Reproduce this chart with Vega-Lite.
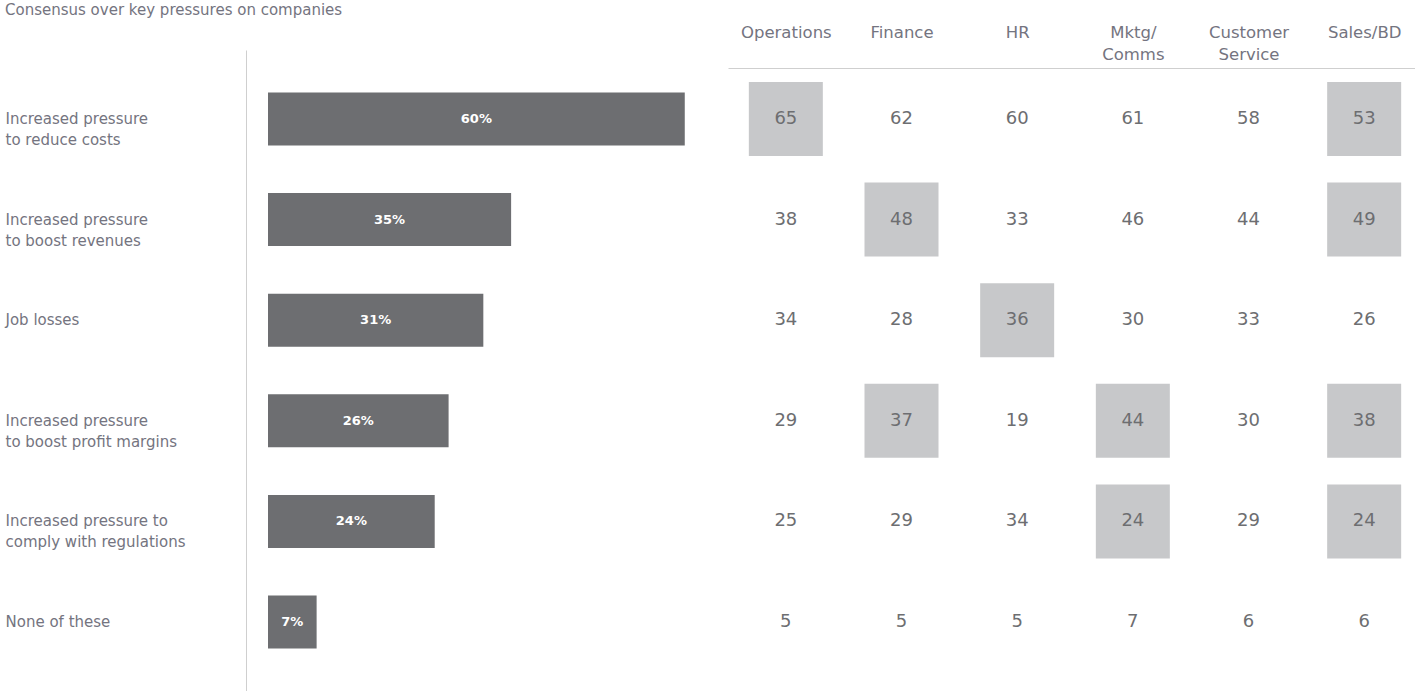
{
  "$schema": "https://vega.github.io/schema/vega-lite/v6.json",
  "width": 1169,
  "height": 641,
  "autosize": {"type": "none"},
  "padding": {"left": 246, "top": 50, "right": 0, "bottom": 0},
  "title": {
    "text": "Consensus over key pressures on companies",
    "anchor": "start",
    "frame": "bounds",
    "font": "DejaVu Sans",
    "fontSize": 15,
    "fontWeight": "normal",
    "color": "#747480",
    "offset": 6
  },
  "config": {"view": {"stroke": null}, "font": "DejaVu Sans"},
  "datasets": {
    "bars": [
      {"pressure": "Increased pressure\nto reduce costs", "share": 0.60},
      {"pressure": "Increased pressure\nto boost revenues", "share": 0.35},
      {"pressure": "Job losses", "share": 0.31},
      {"pressure": "Increased pressure\nto boost profit margins", "share": 0.26},
      {"pressure": "Increased pressure to\ncomply with regulations", "share": 0.24},
      {"pressure": "None of these", "share": 0.07}
    ],
    "cells": [
      {"pressure": "Increased pressure\nto reduce costs", "function": "Operations", "value": 65, "highlight": "yes"},
      {"pressure": "Increased pressure\nto reduce costs", "function": "Finance", "value": 62, "highlight": "no"},
      {"pressure": "Increased pressure\nto reduce costs", "function": "HR", "value": 60, "highlight": "no"},
      {"pressure": "Increased pressure\nto reduce costs", "function": "Mktg/Comms", "value": 61, "highlight": "no"},
      {"pressure": "Increased pressure\nto reduce costs", "function": "Customer Service", "value": 58, "highlight": "no"},
      {"pressure": "Increased pressure\nto reduce costs", "function": "Sales/BD", "value": 53, "highlight": "yes"},
      {"pressure": "Increased pressure\nto boost revenues", "function": "Operations", "value": 38, "highlight": "no"},
      {"pressure": "Increased pressure\nto boost revenues", "function": "Finance", "value": 48, "highlight": "yes"},
      {"pressure": "Increased pressure\nto boost revenues", "function": "HR", "value": 33, "highlight": "no"},
      {"pressure": "Increased pressure\nto boost revenues", "function": "Mktg/Comms", "value": 46, "highlight": "no"},
      {"pressure": "Increased pressure\nto boost revenues", "function": "Customer Service", "value": 44, "highlight": "no"},
      {"pressure": "Increased pressure\nto boost revenues", "function": "Sales/BD", "value": 49, "highlight": "yes"},
      {"pressure": "Job losses", "function": "Operations", "value": 34, "highlight": "no"},
      {"pressure": "Job losses", "function": "Finance", "value": 28, "highlight": "no"},
      {"pressure": "Job losses", "function": "HR", "value": 36, "highlight": "yes"},
      {"pressure": "Job losses", "function": "Mktg/Comms", "value": 30, "highlight": "no"},
      {"pressure": "Job losses", "function": "Customer Service", "value": 33, "highlight": "no"},
      {"pressure": "Job losses", "function": "Sales/BD", "value": 26, "highlight": "no"},
      {"pressure": "Increased pressure\nto boost profit margins", "function": "Operations", "value": 29, "highlight": "no"},
      {"pressure": "Increased pressure\nto boost profit margins", "function": "Finance", "value": 37, "highlight": "yes"},
      {"pressure": "Increased pressure\nto boost profit margins", "function": "HR", "value": 19, "highlight": "no"},
      {"pressure": "Increased pressure\nto boost profit margins", "function": "Mktg/Comms", "value": 44, "highlight": "yes"},
      {"pressure": "Increased pressure\nto boost profit margins", "function": "Customer Service", "value": 30, "highlight": "no"},
      {"pressure": "Increased pressure\nto boost profit margins", "function": "Sales/BD", "value": 38, "highlight": "yes"},
      {"pressure": "Increased pressure to\ncomply with regulations", "function": "Operations", "value": 25, "highlight": "no"},
      {"pressure": "Increased pressure to\ncomply with regulations", "function": "Finance", "value": 29, "highlight": "no"},
      {"pressure": "Increased pressure to\ncomply with regulations", "function": "HR", "value": 34, "highlight": "no"},
      {"pressure": "Increased pressure to\ncomply with regulations", "function": "Mktg/Comms", "value": 24, "highlight": "yes"},
      {"pressure": "Increased pressure to\ncomply with regulations", "function": "Customer Service", "value": 29, "highlight": "no"},
      {"pressure": "Increased pressure to\ncomply with regulations", "function": "Sales/BD", "value": 24, "highlight": "yes"},
      {"pressure": "None of these", "function": "Operations", "value": 5, "highlight": "no"},
      {"pressure": "None of these", "function": "Finance", "value": 5, "highlight": "no"},
      {"pressure": "None of these", "function": "HR", "value": 5, "highlight": "no"},
      {"pressure": "None of these", "function": "Mktg/Comms", "value": 7, "highlight": "no"},
      {"pressure": "None of these", "function": "Customer Service", "value": 6, "highlight": "no"},
      {"pressure": "None of these", "function": "Sales/BD", "value": 6, "highlight": "no"}
    ]
  },
  "layer": [
    {
      "data": {"name": "bars"},
      "layer": [
        {
          "mark": {"type": "bar", "color": "#6d6e71", "height": 53},
          "encoding": {
            "y": {
              "field": "pressure", "type": "nominal", "sort": null,
              "scale": {"paddingInner": 0, "paddingOuter": 0.186},
              "axis": {
                "orient": "left", "title": null, "ticks": false, "tickSize": 0,
                "domain": true, "domainColor": "#cfcfcf", "domainWidth": 1,
                "labelAlign": "left", "labelBaseline": "middle", "labelPadding": 241,
                "labelFont": "DejaVu Sans", "labelFontSize": 15, "labelColor": "#747480",
                "labelLineHeight": 21, "labelLimit": 400, "labelOverlap": false,
                "labelExpr": "split(datum.label, '\\n')", "grid": false
              }
            },
            "x": {
              "field": "share", "type": "quantitative",
              "scale": {"domain": [0, 0.65], "range": [22, 473.5], "nice": false, "zero": true},
              "axis": null
            }
          }
        },
        {
          "transform": [{"calculate": "datum.share / 2", "as": "mid"}],
          "mark": {"type": "text", "color": "white", "fontWeight": "bold", "fontSize": 13, "font": "DejaVu Sans"},
          "encoding": {
            "y": {"field": "pressure", "type": "nominal", "sort": null},
            "x": {
              "field": "mid", "type": "quantitative",
              "scale": {"domain": [0, 0.65], "range": [22, 473.5], "nice": false, "zero": true},
              "axis": null
            },
            "text": {"field": "share", "type": "quantitative", "format": ".0%"}
          }
        }
      ]
    },
    {
      "data": {"name": "cells"},
      "layer": [
        {
          "mark": {"type": "square", "size": 5476, "filled": true, "opacity": 1, "strokeWidth": 0},
          "encoding": {
            "y": {"field": "pressure", "type": "nominal", "sort": null},
            "x": {
              "field": "function", "type": "nominal",
              "scale": {
                "domain": ["Operations", "Finance", "HR", "Mktg/Comms", "Customer Service", "Sales/BD"],
                "range": [482, 1176], "paddingInner": 0, "paddingOuter": 0
              },
              "axis": {
                "orient": "top", "title": null, "offset": -18, "ticks": false, "tickSize": 0,
                "domain": true, "domainColor": "#cfcfcf", "domainWidth": 1,
                "labelPadding": 36, "labelBaseline": "middle", "labelAlign": "center",
                "labelFont": "DejaVu Sans", "labelFontSize": 16.5, "labelColor": "#747480",
                "labelLineHeight": 22, "labelOverlap": false, "labelAngle": 0,
                "labelExpr": "datum.label == 'Mktg/Comms' ? ['Mktg/', 'Comms'] : split(datum.label, ' ')",
                "grid": false
              }
            },
            "color": {
              "condition": {"test": "datum.highlight == 'yes'", "value": "#c7c8ca"},
              "value": "transparent"
            }
          }
        },
        {
          "mark": {"type": "text", "fontSize": 18, "color": "#6d6e71", "font": "DejaVu Sans"},
          "encoding": {
            "y": {"field": "pressure", "type": "nominal", "sort": null},
            "x": {
              "field": "function", "type": "nominal",
              "scale": {
                "domain": ["Operations", "Finance", "HR", "Mktg/Comms", "Customer Service", "Sales/BD"],
                "range": [482, 1176], "paddingInner": 0, "paddingOuter": 0
              }
            },
            "text": {"field": "value", "type": "quantitative"}
          }
        }
      ]
    }
  ],
  "resolve": {"scale": {"x": "independent"}}
}
